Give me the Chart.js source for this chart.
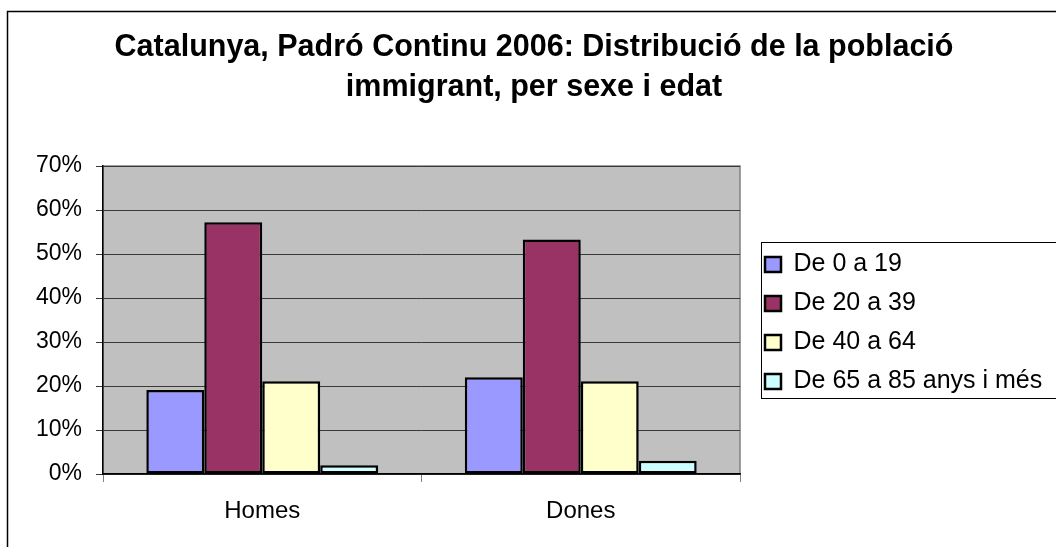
<!DOCTYPE html>
<html>
<head>
<meta charset="utf-8">
<script src="https://cdn.jsdelivr.net/npm/chart.js@4.4.0/dist/chart.umd.min.js"></script>
<style>
  html, body { margin: 0; padding: 0; background: #ffffff; }
  #wrap { width: 1056px; height: 547px; }
</style>
</head>
<body>
<div id="wrap"><canvas id="grafic" width="1056" height="547"></canvas></div>
<script>
// Padró continu 2006, població immigrant a Catalunya (valors llegits del gràfic, en %)
var categories = ['Homes', 'Dones'];
var franges = ['De 0 a 19', 'De 20 a 39', 'De 40 a 64', 'De 65 a 85 anys i més'];
var de0a19 = [19.1, 22.0];
var de20a39 = [57.2, 53.3];
var de40a64 = [21.1, 21.1];
var de65a85 = [2.0, 3.0];
var colors = ['#9999ff', '#993366', '#ffffcc', '#ccffff'];
var yMax = 70;
var yPas = 10;

var FONT = '"Liberation Sans", Arial, sans-serif';
var LEG_PAD = 14;

// fons gris de l'àrea del gràfic, marc exterior i requadre de la llegenda
var decoracio = {
  id: 'decoracio',
  beforeUpdate: function (chart) {
    var leg = chart.legend;
    if (leg && !leg._ampla) {
      var fitOrig = leg.fit;
      leg.fit = function () {
        fitOrig.call(this);
        if (this.options.display) this.width = 316;
      };
      leg._ampla = true;
    }
  },
  afterLayout: function (chart) {
    var leg = chart.legend, a = chart.chartArea;
    leg.left = a.right + 11;
    leg.right = leg.left + 316;
    leg.top = a.top + 3;
    leg.bottom = a.bottom + 3;
    leg.height = a.bottom - a.top;
  },
  beforeDraw: function (chart) {
    var a = chart.chartArea, ctx = chart.ctx;
    ctx.save();
    ctx.fillStyle = '#c0c0c0';
    ctx.fillRect(a.left, a.top, a.right - a.left, a.bottom - a.top);
    ctx.strokeStyle = '#808080';
    ctx.lineWidth = 1.5;
    ctx.strokeRect(a.left, a.top, a.right - a.left, a.bottom - a.top);
    ctx.restore();
  },
  afterDraw: function (chart) {
    var ctx = chart.ctx, leg = chart.legend;
    var h = leg.columnSizes[0].height;
    var y0 = (leg.top + LEG_PAD + leg.bottom - h) / 2;
    ctx.save();
    ctx.strokeStyle = '#000000';
    ctx.lineWidth = 1;
    ctx.strokeRect(leg.left + 10.5, Math.round(y0) - 9.5, 400, h - LEG_PAD + 14);
    ctx.lineWidth = 1.5;
    ctx.strokeRect(7.5, 11.5, 1200, 700);
    ctx.restore();
  }
};

function serie(nom, valors, color) {
  return {
    label: nom,
    data: valors,
    backgroundColor: color,
    borderColor: '#000000',
    borderWidth: 2.5,
    borderSkipped: false,
    categoryPercentage: 0.728,
    barPercentage: 1.0
  };
}

new Chart(document.getElementById('grafic').getContext('2d'), {
  type: 'bar',
  data: {
    labels: categories,
    datasets: [
      serie(franges[0], de0a19, colors[0]),
      serie(franges[1], de20a39, colors[1]),
      serie(franges[2], de40a64, colors[2]),
      serie(franges[3], de65a85, colors[3])
    ]
  },
  options: {
    responsive: false,
    animation: false,
    layout: { padding: { left: 12, top: 12, right: 0, bottom: 0 } },
    plugins: {
      title: {
        display: true,
        text: ['Catalunya, Padró Continu 2006: Distribució de la població', 'immigrant, per sexe i edat'],
        color: '#000000',
        font: { family: FONT, size: 30.5, weight: 'bold', lineHeight: '40px' },
        padding: { top: 16, bottom: 58 }
      },
      legend: {
        position: 'right',
        labels: {
          color: '#000000',
          font: { family: FONT, size: 25 },
          boxWidth: 16,
          boxHeight: 15,
          padding: LEG_PAD
        }
      },
      tooltip: { enabled: false }
    },
    scales: {
      x: {
        offset: true,
        grid: { display: true, drawOnChartArea: false, drawTicks: true, tickLength: 8, color: '#808080', offset: true },
        border: { color: '#000000', width: 1.5 },
        ticks: { color: '#000000', padding: 15, font: { family: FONT, size: 24 } },
        afterFit: function (s) { s.height = 73; }
      },
      y: {
        min: 0,
        max: yMax,
        grid: { color: '#3a3a3a', lineWidth: 1, tickLength: 7 },
        border: { color: '#000000', width: 1.5 },
        ticks: {
          stepSize: yPas,
          color: '#000000',
          padding: 14,
          font: { family: FONT, size: 23 },
          callback: function (v) { return v + '%'; }
        },
        afterFit: function (s) { s.width = 91; }
      }
    }
  },
  plugins: [decoracio]
});
</script>
</body>
</html>
